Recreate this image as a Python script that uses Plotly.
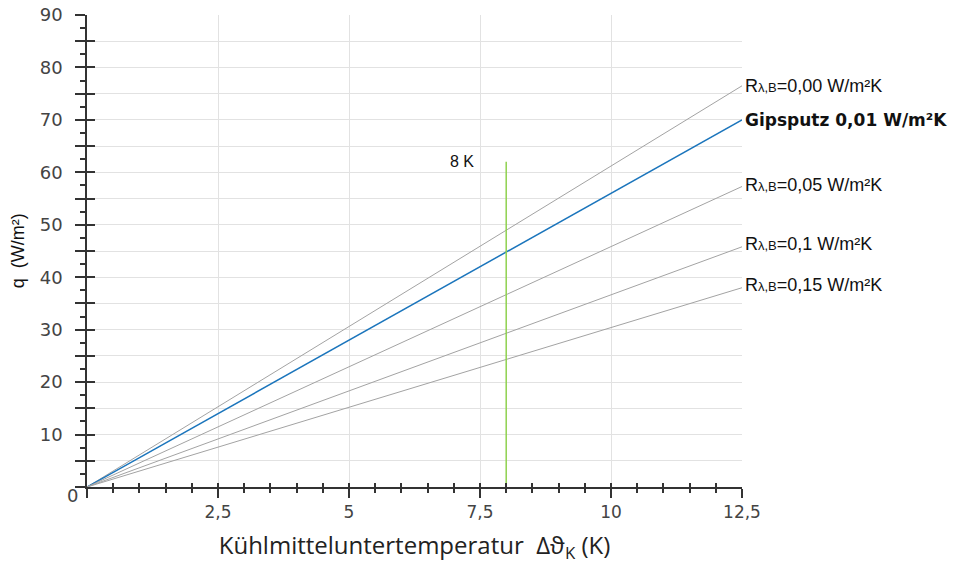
import plotly.graph_objects as go

x_vals = [0, 12.5]
series_names = ["Rλ,B=0,00 W/m²K", "Gipsputz 0,01 W/m²K", "Rλ,B=0,05 W/m²K", "Rλ,B=0,1 W/m²K", "Rλ,B=0,15 W/m²K"]
series_end = [76.5, 70.0, 57.3, 45.8, 38.0]
marker_x = 8
marker_top = 62
x_tickvals = [0, 2.5, 5, 7.5, 10, 12.5]
x_ticktext = ["", "2,5", "5", "7,5", "10", "12,5"]
y_tickvals = list(range(0, 95, 5))
y_ticktext = [("" if v % 10 or v == 0 else str(v)) for v in y_tickvals]

fig = go.Figure()
gray = "#a3a3a3"
blue = "#1b75bc"
for name, end in zip(series_names, series_end):
    is_g = name.startswith("Gipsputz")
    fig.add_trace(go.Scatter(x=x_vals, y=[0, end], mode="lines",
                             line=dict(color=blue if is_g else gray, width=1.5 if is_g else 1),
                             hoverinfo="skip", showlegend=False))
fig.add_trace(go.Scatter(x=[marker_x, marker_x], y=[0, marker_top], mode="lines",
                         line=dict(color="#8fd14f", width=1.5), showlegend=False, hoverinfo="skip"))

def label_html(name):
    if name.startswith("Gipsputz"):
        return "<b>" + name + "</b>"
    return 'R<span style="font-size:13px">λ,B</span>' + name[4:]

label_shift = [0, 0, 1, 3, 3]
for name, end, sh in zip(series_names, series_end, label_shift):
    is_g = name.startswith("Gipsputz")
    fig.add_annotation(x=12.5, y=end, text=label_html(name), showarrow=False,
                       xanchor="left", yanchor="middle", xshift=1, yshift=sh,
                       font=dict(family="DejaVu Sans" if is_g else "Liberation Sans, Arial",
                                 size=17 if is_g else 18, color="#111"))

fig.add_annotation(x=marker_x, y=marker_top, text="8 K", showarrow=False, xanchor="right",
                   yanchor="middle", xshift=-30, font=dict(family="Liberation Sans, Arial", size=16, color="#111"))
fig.add_annotation(x=0, y=0, text="0", showarrow=False, xanchor="right", yanchor="middle",
                   xshift=-7, yshift=-8, font=dict(family="DejaVu Sans", size=18, color="#444"))
fig.add_annotation(xref="paper", yref="paper", x=-0.105, y=0.5, text="q  (W/m²)", textangle=-90,
                   showarrow=False, xanchor="center", yanchor="middle",
                   font=dict(family="Liberation Sans, Arial", size=18, color="#111"))

fig.update_layout(
    width=954, height=573, margin=dict(l=87, r=212, t=15, b=86, autoexpand=False),
    plot_bgcolor="white", paper_bgcolor="white",
    xaxis=dict(range=[0, 12.5], tickvals=x_tickvals, ticktext=x_ticktext, showgrid=True,
               gridcolor="#e2e2e2", gridwidth=1, showline=True, linecolor="#333", linewidth=1.5,
               ticks="outside", ticklen=9, tickcolor="#333", tickwidth=1.5, automargin=False,
               minor=dict(dtick=0.5, ticks="outside", ticklen=4, tickcolor="#333", showgrid=False),
               tickfont=dict(family="DejaVu Sans", size=17, color="#444"), zeroline=False,
               title=dict(text="Kühlmitteluntertemperatur  Δϑ<sub>K</sub> (K)", standoff=16,
                          font=dict(family="Open Sans", size=24, color="#222"))),
    yaxis=dict(range=[0, 90], tickvals=y_tickvals, ticktext=y_ticktext, showgrid=True,
               gridcolor="#e2e2e2", gridwidth=1, showline=True, linecolor="#333", linewidth=1.5,
               ticks="outside", ticklen=10, tickcolor="#333", tickwidth=1.5, automargin=False,
               ticklabelstandoff=9,
               minor=dict(dtick=2.5, ticks="outside", ticklen=5, tickcolor="#333", showgrid=False),
               tickfont=dict(family="DejaVu Sans", size=18, color="#444"), zeroline=False),
    xaxis2=dict(range=[0, 12.5], overlaying="x", tickvals=x_tickvals, ticktext=[""] * 6, side="bottom",
                showgrid=False, ticks="inside", ticklen=9, tickcolor="#333", tickwidth=1.5,
                minor=dict(dtick=0.5, ticks="inside", ticklen=4, tickcolor="#333"),
                showticklabels=False, zeroline=False, anchor="y", automargin=False),
    yaxis2=dict(range=[0, 90], overlaying="y", tickvals=y_tickvals, showgrid=False, side="left",
                ticks="inside", ticklen=8, tickcolor="#333", tickwidth=1.5,
                showticklabels=False, zeroline=False, anchor="x", automargin=False),
)
fig.add_trace(go.Scatter(x=[0], y=[0], xaxis="x2", yaxis="y2", mode="markers",
                         marker=dict(opacity=0), showlegend=False, hoverinfo="skip"))
fig.write_html("out.html")
